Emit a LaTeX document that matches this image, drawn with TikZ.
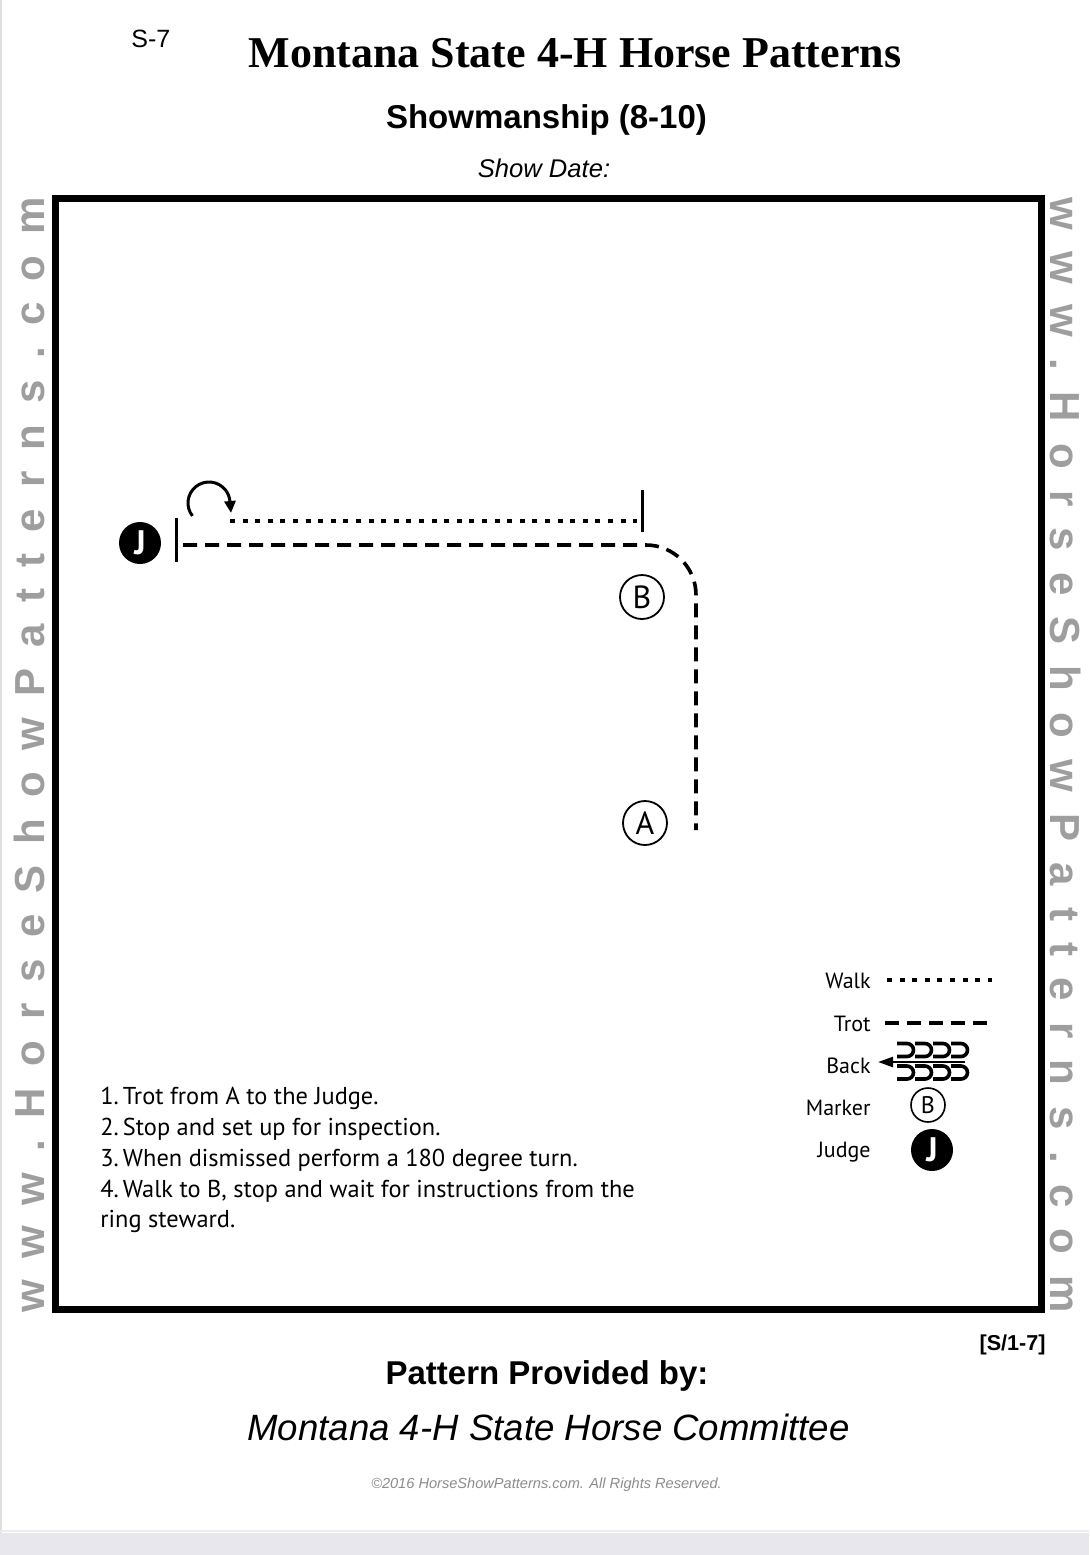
\documentclass[tikz,border=0pt]{standalone}
\usepackage{fontspec}
\setmainfont{Liberation Sans}
\newfontfamily\serifb{Liberation Serif}
\newfontfamily\helv{Liberation Sans}
\newfontfamily\myr{PT Sans}
\usetikzlibrary{arrows.meta}
\definecolor{sidegray}{gray}{0.62}
\definecolor{copygray}{gray}{0.55}
\definecolor{bargray}{RGB}{233,231,238}
\newcommand\gsp{\hspace{10.6pt}}
\tikzset{
  frame/.style={line width=3.5pt},
  trot/.style={line width=1.8pt, dash pattern=on 7pt off 4pt},
  walk/.style={line width=1.8pt, dash pattern=on 2.5pt off 3.8pt},
  stopbar/.style={line width=1.5pt},
  marker/.style={circle, draw, line width=0.9pt, minimum size=22pt, inner sep=0pt, font=\myr\fontsize{16pt}{18pt}\selectfont},
  smallmarker/.style={circle, draw, line width=0.8pt, minimum size=17pt, inner sep=0pt, font=\myr\fontsize{12pt}{14pt}\selectfont},
  judge/.style={circle, fill=black, text=white, minimum size=21pt, inner sep=0pt, font=\myr\bfseries\fontsize{17pt}{19pt}\selectfont},
  instr/.style={anchor=base west, inner sep=0pt, font=\myr\fontsize{12.2pt}{15pt}\selectfont},
  legtext/.style={anchor=base east, inner sep=0pt, font=\myr\fontsize{11pt}{13pt}\selectfont},
  sidetext/.style={anchor=base, inner sep=0pt, text=sidegray, font=\helv\bfseries\fontsize{21pt}{24pt}\selectfont},
  turnarc/.style={line width=1.5pt},
  turntip/.style={line width=1.5pt, -{Triangle[length=6pt,width=5.5pt]}},
  backshape/.style={line width=1.8pt},
}
\begin{document}
\begin{tikzpicture}[x=0.5pt,y=-0.5pt]
\useasboundingbox (0,0) rectangle (1089,1555);
\fill[white] (0,0) rectangle (1089,1555);
\fill[bargray] (0,1533) rectangle (1089,1555);
\draw[gray!25, line width=0.6pt] (1,0) -- (1,1533);
\draw[gray!15, line width=0.6pt] (0,1531) -- (1089,1531);

% header
\node[anchor=base west, inner sep=0pt, font=\helv\fontsize{12.5pt}{15pt}\selectfont] (s7) at (131,47) {S-7};
\node[anchor=base, inner sep=0pt, font=\serifb\bfseries\fontsize{22pt}{26pt}\selectfont] (title) at (575,67) {Montana State 4-H Horse Patterns};
\node[anchor=base, inner sep=0pt, font=\helv\bfseries\fontsize{16.5pt}{19pt}\selectfont] (sub) at (546.5,128) {Showmanship (8-10)};
\node[anchor=base, inner sep=0pt, font=\helv\itshape\fontsize{12.8pt}{15pt}\selectfont] (date) at (544,177) {Show Date:};

% frame
\draw[frame] (55.5,198.5) rectangle (1041.5,1309.5);

% side texts
\node[sidetext, rotate=90] (lside) at (45,755) {w\gsp w\gsp w\gsp .\gsp H\gsp o\gsp r\gsp s\gsp e\gsp S\gsp h\gsp o\gsp w\gsp P\gsp a\gsp t\gsp t\gsp e\gsp r\gsp n\gsp s\gsp .\gsp c\gsp o\gsp m};
\node[sidetext, rotate=-90] (rside) at (1050,755) {w\gsp w\gsp w\gsp .\gsp H\gsp o\gsp r\gsp s\gsp e\gsp S\gsp h\gsp o\gsp w\gsp P\gsp a\gsp t\gsp t\gsp e\gsp r\gsp n\gsp s\gsp .\gsp c\gsp o\gsp m};

% pattern
\node[judge] (J) at (140,543) {J};
\coordinate (jbartop) at (176,518);
\coordinate (jbarbot) at (176,562);
\draw[stopbar] (jbartop) -- (jbarbot);
\coordinate (trotstart) at (183,545);
\coordinate (corner) at (696,545);
\coordinate (trotend) at (696,830);
\draw[trot, rounded corners=25pt] (trotstart) -- (corner) -- (trotend);

\coordinate (walkstart) at (230,521);
\coordinate (walkend) at (637,521);
\draw[walk] (walkstart) -- (walkend);
\coordinate (bbartop) at (642,490);
\coordinate (bbarbot) at (642,532);
\draw[stopbar] (bbartop) -- (bbarbot);

% 180 degree turn arrow
\coordinate (turnc) at (209,503);
\coordinate (turnend) at (230,501);
\coordinate (turntipend) at (231,513);
\draw[turnarc] (turnc) ++(142:21) arc (142:355:21);
\draw[turntip] (turnend) -- (turntipend);

\node[marker] (B) at (642,597) {B};
\node[marker] (A) at (645,823) {A};

% instructions
\node[instr] (i1) at (100,1104) {1.\,Trot from A to the Judge.};
\node[instr] (i2) at (100,1135) {2.\,Stop and set up for inspection.};
\node[instr] (i3) at (100,1166) {3.\,When dismissed perform a 180 degree turn.};
\node[instr] (i4) at (100,1197) {4.\,Walk to B, stop and wait for instructions from the};
\node[instr] (i5) at (100,1227) {ring steward.};

% legend
\node[legtext] (lwalk) at (871,988) {Walk};
\node[legtext] (ltrot) at (871,1031) {Trot};
\node[legtext] (lback) at (871,1073) {Back};
\node[legtext] (lmark) at (871,1115) {Marker};
\node[legtext] (ljudge) at (871,1157) {Judge};

\coordinate (lw1) at (887,980);
\coordinate (lw2) at (992,980);
\draw[walk] (lw1) -- (lw2);
\coordinate (lt1) at (885,1023);
\coordinate (lt2) at (992,1023);
\draw[trot] (lt1) -- (lt2);

\coordinate (lb1) at (965,1062);
\coordinate (lb2) at (878,1062);
\draw[line width=1.3pt, -{Triangle[length=7.5pt,width=5pt]}] (lb1) -- (lb2);
\foreach \i in {0,1,2,3}{
  \draw[backshape] ({897+18*\i},1043.5) -- ({907+18*\i},1043.5) arc (-90:90:6.5) -- ({897+18*\i},1056.5);
  \draw[backshape] ({897+18*\i},1066) -- ({907+18*\i},1066) arc (-90:90:6.5) -- ({897+18*\i},1079);
}
\node[smallmarker] (lB) at (928,1105) {B};
\node[judge] (lJ) at (932,1150) {J};

% footer
\node[anchor=base east, inner sep=0pt, font=\helv\bfseries\fontsize{10.8pt}{13pt}\selectfont] (code) at (1046,1350) {[S/1-7]};
\node[anchor=base, inner sep=0pt, font=\helv\bfseries\fontsize{16.5pt}{19pt}\selectfont] (prov) at (547,1384) {Pattern Provided by:};
\node[anchor=base, inner sep=0pt, font=\helv\itshape\fontsize{18.3pt}{21pt}\selectfont] (comm) at (548.5,1440) {Montana 4-H State Horse Committee};
\node[anchor=base, inner sep=0pt, text=copygray, font=\helv\itshape\fontsize{7.3pt}{9pt}\selectfont] (copy) at (546.5,1488) {\textcopyright2016 HorseShowPatterns.com. All Rights Reserved.};
\end{tikzpicture}
\end{document}
